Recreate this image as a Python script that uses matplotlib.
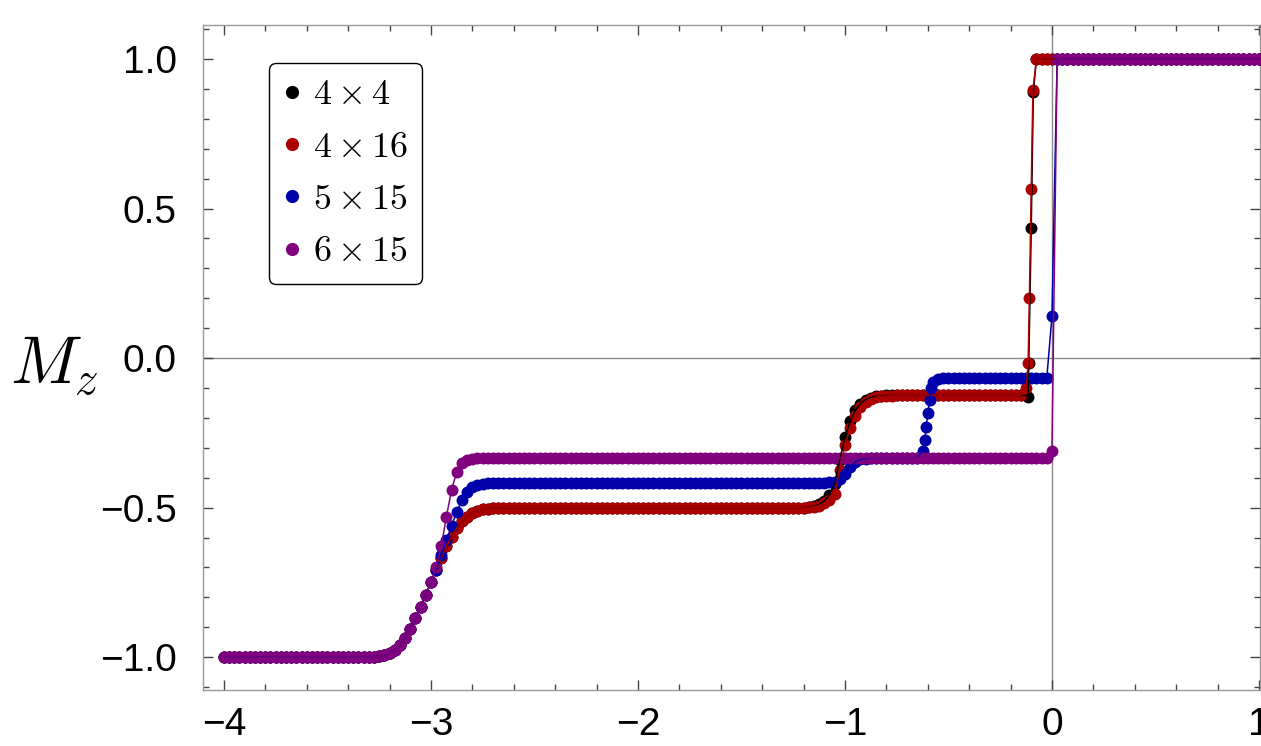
import numpy as np
import matplotlib
matplotlib.use("Agg")
import matplotlib.pyplot as plt
from matplotlib.lines import Line2D
from matplotlib.ticker import MultipleLocator

plt.rcParams['mathtext.fontset'] = 'cm'
plt.rcParams['font.family'] = ['Liberation Sans', 'DejaVu Sans']

# ---------------- data ----------------
h_grid = np.round(np.linspace(-4.0, 1.0, 201), 3)   # field sampling grid, step 0.025

series_labels = [r'$4\times4$', r'$4\times16$', r'$5\times15$', r'$6\times15$']
series_colors = ['#000000', '#AA0000', '#0000AA', '#800080']

black_y = [
    -1.0, -1.0, -1.0, -1.0, -1.0, -1.0, -1.0, -1.0, -1.0, -1.0,
    -1.0, -1.0, -1.0, -1.0, -1.0, -1.0, -1.0, -1.0, -1.0, -1.0,
    -1.0, -1.0, -1.0, -1.0, -1.0, -1.0, -1.0, -1.0, -1.0,
    -0.999, -0.997, -0.993, -0.986, -0.975, -0.958, -0.935, -0.905, -0.870, -0.832,
    -0.792, -0.750, -0.708,
    -0.668, -0.630, -0.597, -0.568, -0.546, -0.530, -0.518, -0.511, -0.506, -0.503,
    -0.502, -0.501,
    -0.5, -0.5, -0.5, -0.5, -0.5, -0.5, -0.5, -0.5, -0.5, -0.5,
    -0.5, -0.5, -0.5, -0.5, -0.5, -0.5, -0.5, -0.5, -0.5, -0.5,
    -0.5, -0.5, -0.5, -0.5, -0.5, -0.5, -0.5, -0.5, -0.5, -0.5,
    -0.5, -0.5, -0.5, -0.5, -0.5, -0.5, -0.5, -0.5, -0.5, -0.5,
    -0.5, -0.5, -0.5, -0.5, -0.5, -0.5, -0.5, -0.5, -0.5, -0.5,
    -0.5, -0.5, -0.5, -0.5, -0.5, -0.5, -0.5, -0.5, -0.5,
    -0.498, -0.495, -0.489, -0.478, -0.458, -0.420, -0.340, -0.265, -0.210, -0.175,
    -0.152, -0.139, -0.132, -0.128, -0.126,
    -0.125, -0.125, -0.125, -0.125, -0.125, -0.125, -0.125, -0.125, -0.125, -0.125,
    -0.125, -0.125, -0.125, -0.125, -0.125, -0.125, -0.125, -0.125, -0.125, -0.125,
    -0.125, -0.125, -0.125, -0.125, -0.125, -0.125, -0.125, -0.125,
    0.435,
    1.0, 1.0, 1.0, 1.0, 1.0, 1.0, 1.0, 1.0, 1.0, 1.0,
    1.0, 1.0, 1.0, 1.0, 1.0, 1.0, 1.0, 1.0, 1.0, 1.0,
    1.0, 1.0, 1.0, 1.0, 1.0, 1.0, 1.0, 1.0, 1.0, 1.0,
    1.0, 1.0, 1.0, 1.0, 1.0, 1.0, 1.0, 1.0, 1.0, 1.0,
    1.0, 1.0, 1.0, 1.0,
]
black_extra_x = [-0.115, -0.112, -0.090]
black_extra_y = [-0.130, -0.017, 0.890]

red_y = [
    -1.0, -1.0, -1.0, -1.0, -1.0, -1.0, -1.0, -1.0, -1.0, -1.0,
    -1.0, -1.0, -1.0, -1.0, -1.0, -1.0, -1.0, -1.0, -1.0, -1.0,
    -1.0, -1.0, -1.0, -1.0, -1.0, -1.0, -1.0, -1.0, -1.0,
    -0.999, -0.997, -0.993, -0.986, -0.975, -0.958, -0.935, -0.905, -0.870, -0.832,
    -0.792, -0.750, -0.708,
    -0.668, -0.630, -0.597, -0.568, -0.546, -0.530, -0.518, -0.511, -0.506, -0.503,
    -0.502, -0.501,
    -0.5, -0.5, -0.5, -0.5, -0.5, -0.5, -0.5, -0.5, -0.5, -0.5,
    -0.5, -0.5, -0.5, -0.5, -0.5, -0.5, -0.5, -0.5, -0.5, -0.5,
    -0.5, -0.5, -0.5, -0.5, -0.5, -0.5, -0.5, -0.5, -0.5, -0.5,
    -0.5, -0.5, -0.5, -0.5, -0.5, -0.5, -0.5, -0.5, -0.5, -0.5,
    -0.5, -0.5, -0.5, -0.5, -0.5, -0.5, -0.5, -0.5, -0.5, -0.5,
    -0.5, -0.5, -0.5, -0.5, -0.5, -0.5, -0.5, -0.5, -0.5,
    -0.499, -0.497, -0.493, -0.486, -0.474, -0.455, -0.375, -0.290, -0.235, -0.195,
    -0.165, -0.146, -0.136, -0.131, -0.128, -0.127, -0.126,
    -0.125, -0.125, -0.125, -0.125, -0.125, -0.125, -0.125, -0.125, -0.125, -0.125,
    -0.125, -0.125, -0.125, -0.125, -0.125, -0.125, -0.125, -0.125, -0.125, -0.125,
    -0.125, -0.125, -0.125, -0.125, -0.125,
    -0.100,
    0.565,
    1.0, 1.0, 1.0, 1.0, 1.0, 1.0, 1.0, 1.0, 1.0, 1.0,
    1.0, 1.0, 1.0, 1.0, 1.0, 1.0, 1.0, 1.0, 1.0, 1.0,
    1.0, 1.0, 1.0, 1.0, 1.0, 1.0, 1.0, 1.0, 1.0, 1.0,
    1.0, 1.0, 1.0, 1.0, 1.0, 1.0, 1.0, 1.0, 1.0, 1.0,
    1.0, 1.0, 1.0, 1.0,
]
red_extra_x = [-0.115, -0.109, -0.092]
red_extra_y = [-0.017, 0.200, 0.896]

blue_y = [
    -1.0, -1.0, -1.0, -1.0, -1.0, -1.0, -1.0, -1.0, -1.0, -1.0,
    -1.0, -1.0, -1.0, -1.0, -1.0, -1.0, -1.0, -1.0, -1.0, -1.0,
    -1.0, -1.0, -1.0, -1.0, -1.0, -1.0, -1.0, -1.0, -1.0,
    -0.999, -0.997, -0.993, -0.986, -0.975, -0.958, -0.935, -0.905, -0.870, -0.832,
    -0.792, -0.750, -0.708,
    -0.660, -0.610, -0.560, -0.515, -0.475, -0.447, -0.432, -0.424, -0.420, -0.418,
    -0.417, -0.417, -0.417, -0.417, -0.417, -0.417, -0.417, -0.417, -0.417, -0.417,
    -0.417, -0.417, -0.417, -0.417, -0.417, -0.417, -0.417, -0.417, -0.417, -0.417,
    -0.417, -0.417, -0.417, -0.417, -0.417, -0.417, -0.417, -0.417, -0.417, -0.417,
    -0.417, -0.417, -0.417, -0.417, -0.417, -0.417, -0.417, -0.417, -0.417, -0.417,
    -0.417, -0.417, -0.417, -0.417, -0.417, -0.417, -0.417, -0.417, -0.417, -0.417,
    -0.417, -0.417, -0.417, -0.417, -0.417, -0.417, -0.417, -0.417, -0.417, -0.417,
    -0.417, -0.417, -0.417, -0.417, -0.417,
    -0.416, -0.413, -0.405, -0.388, -0.365, -0.347, -0.339, -0.336, -0.334,
    -0.333, -0.333, -0.333, -0.333, -0.333, -0.333, -0.333, -0.333, -0.333,
    -0.310, -0.185, -0.080, -0.069, -0.067,
    -0.067, -0.067, -0.067, -0.067, -0.067, -0.067, -0.067, -0.067, -0.067, -0.067,
    -0.067, -0.067, -0.067, -0.067, -0.067, -0.067, -0.067, -0.067, -0.067, -0.067,
    0.140,
    1.0, 1.0, 1.0, 1.0, 1.0, 1.0, 1.0, 1.0, 1.0, 1.0,
    1.0, 1.0, 1.0, 1.0, 1.0, 1.0, 1.0, 1.0, 1.0, 1.0,
    1.0, 1.0, 1.0, 1.0, 1.0, 1.0, 1.0, 1.0, 1.0, 1.0,
    1.0, 1.0, 1.0, 1.0, 1.0, 1.0, 1.0, 1.0, 1.0, 1.0,
]
blue_extra_x = [-0.615, -0.607, -0.590, -0.583]
blue_extra_y = [-0.274, -0.230, -0.140, -0.100]

purple_y = [
    -1.0, -1.0, -1.0, -1.0, -1.0, -1.0, -1.0, -1.0, -1.0, -1.0,
    -1.0, -1.0, -1.0, -1.0, -1.0, -1.0, -1.0, -1.0, -1.0, -1.0,
    -1.0, -1.0, -1.0, -1.0, -1.0, -1.0, -1.0, -1.0, -1.0,
    -0.999, -0.997, -0.993, -0.986, -0.975, -0.958, -0.935, -0.905, -0.870, -0.832,
    -0.792, -0.750,
    -0.700, -0.630, -0.530, -0.440, -0.380, -0.352, -0.341, -0.337, -0.335, -0.334,
    -0.333, -0.333, -0.333, -0.333, -0.333, -0.333, -0.333, -0.333, -0.333, -0.333,
    -0.333, -0.333, -0.333, -0.333, -0.333, -0.333, -0.333, -0.333, -0.333, -0.333,
    -0.333, -0.333, -0.333, -0.333, -0.333, -0.333, -0.333, -0.333, -0.333, -0.333,
    -0.333, -0.333, -0.333, -0.333, -0.333, -0.333, -0.333, -0.333, -0.333, -0.333,
    -0.333, -0.333, -0.333, -0.333, -0.333, -0.333, -0.333, -0.333, -0.333, -0.333,
    -0.333, -0.333, -0.333, -0.333, -0.333, -0.333, -0.333, -0.333, -0.333, -0.333,
    -0.333, -0.333, -0.333, -0.333, -0.333, -0.333, -0.333, -0.333, -0.333, -0.333,
    -0.333, -0.333, -0.333, -0.333, -0.333, -0.333, -0.333, -0.333, -0.333, -0.333,
    -0.333, -0.333, -0.333, -0.333, -0.333, -0.333, -0.333, -0.333, -0.333, -0.333,
    -0.333, -0.333, -0.333, -0.333, -0.333, -0.333, -0.333, -0.333, -0.333, -0.333,
    -0.333, -0.333, -0.333, -0.333, -0.333, -0.333, -0.333, -0.333, -0.333,
    -0.310,
    1.0, 1.0, 1.0, 1.0, 1.0, 1.0, 1.0, 1.0, 1.0, 1.0,
    1.0, 1.0, 1.0, 1.0, 1.0, 1.0, 1.0, 1.0, 1.0, 1.0,
    1.0, 1.0, 1.0, 1.0, 1.0, 1.0, 1.0, 1.0, 1.0, 1.0,
    1.0, 1.0, 1.0, 1.0, 1.0, 1.0, 1.0, 1.0, 1.0, 1.0,
]
purple_extra_x = []
purple_extra_y = []

x_ticks = [-4, -3, -2, -1, 0, 1]
x_tick_labels = ['\u22124', '\u22123', '\u22122', '\u22121', '0', '1']
y_ticks = [-1.0, -0.5, 0.0, 0.5, 1.0]
y_tick_labels = ['\u22121.0', '\u22120.5', '0.0', '0.5', '1.0']

for arr in (black_y, red_y, blue_y, purple_y):
    assert len(arr) == len(h_grid), len(arr)

def merged(grid_y, ex_x, ex_y):
    x = np.concatenate([h_grid, np.array(ex_x, dtype=float)])
    y = np.concatenate([np.array(grid_y, dtype=float), np.array(ex_y, dtype=float)])
    order = np.argsort(x, kind='stable')
    return x[order], y[order]

series = [
    merged(black_y, black_extra_x, black_extra_y),
    merged(red_y, red_extra_x, red_extra_y),
    merged(blue_y, blue_extra_x, blue_extra_y),
    merged(purple_y, purple_extra_x, purple_extra_y),
]

# ---------------- figure ----------------
W, H = 1261, 746
fig = plt.figure(figsize=(W / 100, H / 100), dpi=100)
ax = fig.add_axes([203 / W, (H - 690) / H, (1260 - 203) / W, (690 - 25) / H])

ax.set_xlim(-4.101, 1.005)
ax.set_ylim(-1.110, 1.114)

ax.axhline(0, color='#8a8a8a', lw=1.0, zorder=0.5)
ax.axvline(0, color='#8a8a8a', lw=1.0, zorder=0.5)

for k, ((x, y), c) in enumerate(zip(series, series_colors)):
    ax.plot(x, y, ls='none', marker='o', ms=8.6, color=c, mec='none', zorder=2 + k)
for k, ((x, y), c) in enumerate(zip(series, series_colors)):
    ax.plot(x, y, ls='-', lw=1.1, color=c, zorder=10 + k)

ax.set_xticks(x_ticks)
ax.set_xticklabels(x_tick_labels)
ax.set_yticks(y_ticks)
ax.set_yticklabels(y_tick_labels)
ax.xaxis.set_minor_locator(MultipleLocator(0.2))
ax.yaxis.set_minor_locator(MultipleLocator(0.1))
ax.tick_params(which='both', direction='in', top=True, right=True, color='#444444', width=1.0)
ax.tick_params(which='major', length=7, labelsize=28)
ax.tick_params(which='minor', length=4)
ax.tick_params(axis='x', which='major', pad=12)
ax.tick_params(axis='y', which='major', pad=19)
for sp in ax.spines.values():
    sp.set_color('#999999')
    sp.set_linewidth(1.0)

fig.text(54 / W, 1 - 366 / H, r'$M_z$', fontsize=48, ha='center', va='center')

handles = [Line2D([], [], ls='none', marker='o', ms=9.5, color=c, mec='none') for c in series_colors]
leg = ax.legend(handles, series_labels, loc='upper left',
                bbox_to_anchor=(269 / W, 1 - 63 / H), bbox_transform=fig.transFigure,
                fontsize=26, frameon=True, fancybox=True, framealpha=1,
                edgecolor='black', borderpad=0.4, labelspacing=0.48,
                handlelength=0.45, handletextpad=0.36, borderaxespad=0)
leg.get_frame().set_linewidth(1.0)
leg.set_zorder(30)

fig.savefig('out.png', dpi=100)
